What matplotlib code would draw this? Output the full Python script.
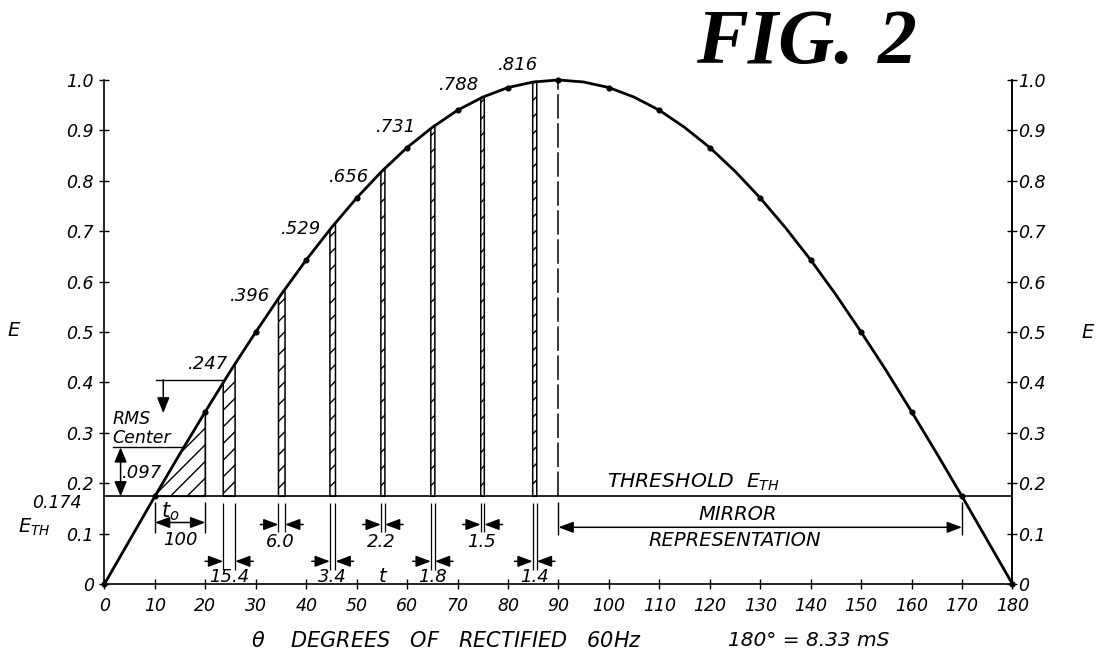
import matplotlib
matplotlib.use("Agg")
import matplotlib.pyplot as plt

# ---------------- data ----------------
theta = [0, 5, 10, 15, 20, 25, 30, 35, 40, 45, 50, 55, 60, 65, 70, 75, 80, 85, 90,
         95, 100, 105, 110, 115, 120, 125, 130, 135, 140, 145, 150, 155, 160, 165, 170, 175, 180]
E = [0.0, 0.087, 0.174, 0.259, 0.342, 0.423, 0.500, 0.574, 0.643, 0.707, 0.766, 0.819, 0.866,
     0.906, 0.940, 0.966, 0.985, 0.996, 1.000, 0.996, 0.985, 0.966, 0.940, 0.906, 0.866, 0.819,
     0.766, 0.707, 0.643, 0.574, 0.500, 0.423, 0.342, 0.259, 0.174, 0.087, 0.0]

threshold = 0.174
rms_center = 0.271
rms_curve_theta = 15.7
rms_delta_label = ".097"

# first (triangular) conduction region
tri_theta = [10, 15, 20]
tri_E = [0.174, 0.259, 0.342]

# conduction bars (left / right edges in degrees and curve value at each edge)
bar_left = [23.55, 34.5, 44.7, 54.8, 64.7, 74.6, 84.9]
bar_right = [25.9, 35.8, 45.8, 55.6, 65.5, 75.3, 85.7]
bar_top_left = [0.400, 0.566, 0.703, 0.817, 0.904, 0.964, 0.996]
bar_top_right = [0.437, 0.585, 0.717, 0.825, 0.910, 0.967, 0.997]
bar_labels = [".247", ".396", ".529", ".656", ".731", ".788", ".816"]

# width labels under the bars
t0_label = "100"
bar_width_labels = ["15.4", "6.0", "3.4", "2.2", "1.8", "1.5", "1.4"]

mirror_start = 90
mirror_end = 170

x_ticks = list(range(0, 181, 10))
x_tick_labels = [str(v) for v in x_ticks]
y_ticks = [0, 0.1, 0.2, 0.3, 0.4, 0.5, 0.6, 0.7, 0.8, 0.9, 1.0]
y_tick_labels = ["0", "0.1", "0.2", "0.3", "0.4", "0.5", "0.6", "0.7", "0.8", "0.9", "1.0"]

# ---------------- style ----------------
plt.rcParams['font.family'] = ['DejaVu Sans']
plt.rcParams['font.style'] = 'oblique'
plt.rcParams['mathtext.fontset'] = 'dejavusans'
plt.rcParams['hatch.linewidth'] = 1.0

fig = plt.figure(figsize=(11.1, 6.61), dpi=100)
ax = fig.add_axes([0.0941, 0.1165, 0.818, 0.7625])
ax.set_xlim(0, 180)
ax.set_ylim(0, 1.0)

K = 'black'

# curve with dots every 10 degrees
ax.plot(theta, E, color=K, lw=2.0, marker='o', markersize=3.4, markevery=2,
        clip_on=False, zorder=5)

# threshold line
ax.plot([0, 180], [threshold, threshold], color=K, lw=1.2, zorder=4)

# hatched regions
ax.fill_between(tri_theta, tri_E, threshold, facecolor='white', edgecolor=K,
                hatch='//', lw=1.2, zorder=3)
for l, r, tl, tr in zip(bar_left, bar_right, bar_top_left, bar_top_right):
    ax.fill_between([l, r], [tl, tr], threshold, facecolor='white', edgecolor=K,
                    hatch='//', lw=1.1, zorder=3)

# dashed line at 90 deg
ax.plot([mirror_start, mirror_start], [threshold, 1.0], color=K, lw=1.1,
        dashes=(16, 3), zorder=4)

# ---------------- dimension helpers ----------------
def arrow(x0, y0, x1, y1, style='-|>', hl=0.9, hw=0.34, lw=1.1):
    ax.annotate('', xy=(x1, y1), xytext=(x0, y0),
                arrowprops=dict(arrowstyle=f'{style},head_length={hl},head_width={hw}',
                                color=K, lw=lw, shrinkA=0, shrinkB=0,
                                mutation_scale=10), annotation_clip=False)

def inward_dim(l, r, y, tail=3.6):
    arrow(l - tail, y, l, y)
    arrow(r + tail, y, r, y)

dim_font = dict(fontsize=13, ha='center', va='center')
upper_arrow, lower_arrow = 0.118, 0.045
upper_text, lower_text = 0.084, 0.014
ext_top, upper_ext_bot, lower_ext_bot = 0.160, 0.104, 0.028

# t0 dimension
ax.vlines(tri_theta[0], 0.101, 0.162, color=K, lw=1.0)
ax.vlines(tri_theta[-1], 0.101, 0.162, color=K, lw=1.0)
arrow(tri_theta[0], 0.122, tri_theta[-1], 0.122, style='<|-|>')
ax.text(13.0, 0.143, r'$\mathit{t}_{\mathit{o}}$', fontsize=15, ha='center', va='center')
ax.text(15.0, 0.088, t0_label, **dim_font)

for i, (l, r, lab) in enumerate(zip(bar_left, bar_right, bar_width_labels)):
    lower = (i % 2 == 0)
    yb = lower_ext_bot if lower else upper_ext_bot
    ax.vlines([l, r], yb, ext_top, color=K, lw=0.9)
    inward_dim(l, r, lower_arrow if lower else upper_arrow)
    ax.text((l + r) / 2 - (0.3 if not lower else 0), lower_text if lower else upper_text,
            lab, **dim_font)

ax.text(55.2, lower_text, 't', fontsize=14, ha='center', va='center')

# mirror representation
ax.vlines([mirror_start, mirror_end], 0.097, 0.162, color=K, lw=1.0)
arrow(mirror_start, 0.1125, mirror_end, 0.1125, style='<|-|>')
ax.text(125.5, 0.137, 'MIRROR', fontsize=14, ha='center', va='center')
ax.text(125.0, 0.087, 'REPRESENTATION', fontsize=14, ha='center', va='center')
ax.text(99.6, 0.192, r'THRESHOLD  $\mathit{E}_{\mathit{TH}}$', fontsize=14.7,
        ha='left', va='baseline')

# RMS center
ax.plot([1.6, rms_curve_theta], [rms_center, rms_center], color=K, lw=1.0)
ax.text(1.6, 0.308, 'RMS\nCenter', fontsize=12.5, ha='left', va='center', linespacing=1.05)
arrow(3.2, threshold, 3.2, rms_center, style='<|-|>', hl=0.9, hw=0.38)
ax.text(3.4, 0.220, rms_delta_label, fontsize=13, ha='left', va='center')

# .247 pointer
ax.plot([10.2, bar_left[0] + 0.15], [0.405, 0.405], color=K, lw=1.0)
arrow(11.66, 0.405, 11.66, 0.339, hl=0.95, hw=0.38)

# bar top labels
bar_label_pos = [(24.5, 0.437), (32.8, 0.572), (42.9, 0.704), (52.5, 0.807),
                 (61.9, 0.906), (74.3, 0.991), (86.0, 1.030)]
for (x, y), lab in zip(bar_label_pos, bar_labels):
    ax.text(x, y, lab, fontsize=13, ha='right', va='center')

# ---------------- axes ----------------
ax.spines['top'].set_visible(False)
for s in ['left', 'bottom', 'right']:
    ax.spines[s].set_linewidth(1.2)

ax.set_xticks(x_ticks)
ax.set_xticklabels(x_tick_labels)
ax.set_yticks(y_ticks)
ax.set_yticklabels(y_tick_labels)
ax.tick_params(axis='x', direction='inout', length=7, width=1.0, pad=6.0, labelsize=12.5)
ax.tick_params(axis='y', direction='inout', length=7, width=1.0, pad=4.0, labelsize=12.5)

ax2 = ax.twinx()
ax2.set_ylim(0, 1.0)
ax2.set_yticks(y_ticks)
ax2.set_yticklabels(y_tick_labels)
ax2.tick_params(axis='y', direction='inout', length=7, width=1.0, pad=0.5, labelsize=12.5)
for s in ['top', 'left', 'bottom']:
    ax2.spines[s].set_visible(False)
ax2.spines['right'].set_linewidth(1.2)

# axis labels / side texts
fig.text(14 / 1110, 1 - 330 / 661, 'E', fontsize=14, ha='center', va='center')
fig.text(1088 / 1110, 1 - 332 / 661, 'E', fontsize=14, ha='center', va='center')
fig.text(81.7 / 1110, 1 - 502.5 / 661, '0.174', fontsize=12.5, ha='right', va='center')
fig.text(34 / 1110, 1 - 527 / 661, r'$\mathit{E}_{\mathit{TH}}$', fontsize=14,
         ha='center', va='center')

fig.text(251 / 1110, 1 - 641 / 661,
         r'$\mathit{\theta}$    DEGREES   OF   RECTIFIED   60Hz',
         fontsize=15, ha='left', va='center')
fig.text(728 / 1110, 1 - 641 / 661, '180° = 8.33 mS', fontsize=14.5, ha='left', va='center')

title_kw = dict(fontsize=56, family='Liberation Serif', weight='bold', style='italic',
                va='baseline')
fig.text(854 / 1110, 1 - 63 / 661, 'FIG.', ha='right', **title_kw)
fig.text(878 / 1110, 1 - 63 / 661, '2', ha='left', **title_kw)

fig.savefig('out.png', dpi=100, facecolor='white')
